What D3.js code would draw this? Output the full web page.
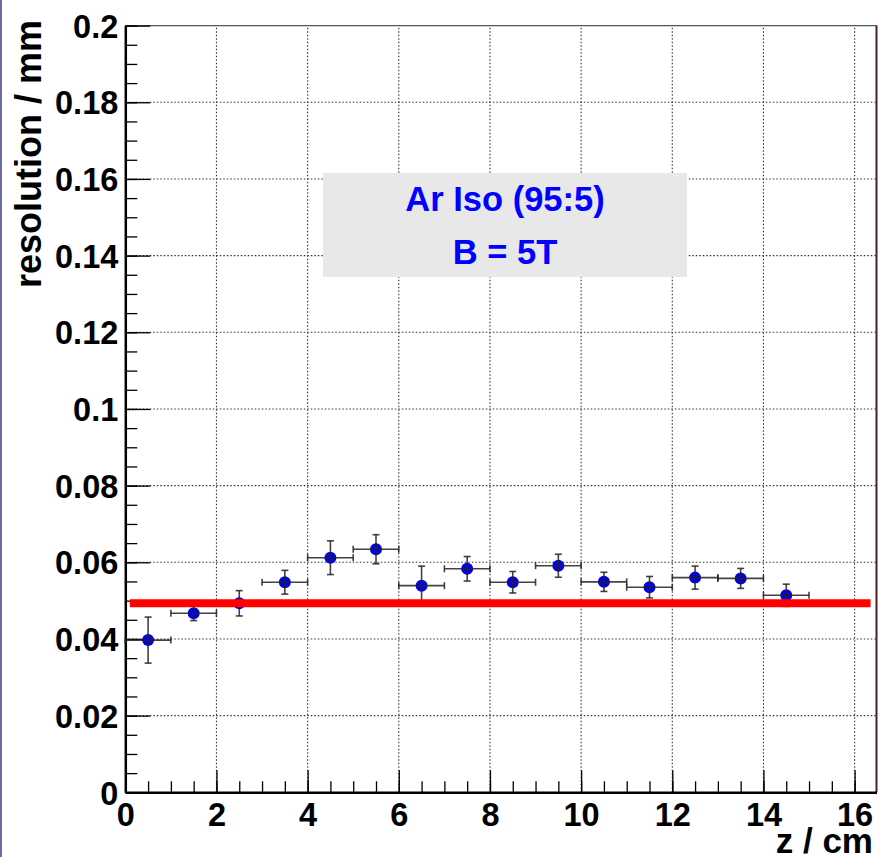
<!DOCTYPE html>
<html>
<head>
<script type="text/javascript" src="https://cdn.jsdelivr.net/npm/d3@7/dist/d3.min.js"></script>
<style>
  body { margin: 0; background: white; }
  text { font-family: "Liberation Sans", Arial, Helvetica, sans-serif; font-weight: bold; }
</style>
</head>
<body>
<script>

// data
var zBins      = [0.5, 1.5, 2.5, 3.5, 4.5, 5.5, 6.5, 7.5, 8.5, 9.5, 10.5, 11.5, 12.5, 13.5, 14.5];
var zErr       = [0.5, 0.5, 0.5, 0.5, 0.5, 0.5, 0.5, 0.5, 0.5, 0.5, 0.5, 0.5, 0.5, 0.5, 0.5];
var resolution = [0.0397, 0.0467, 0.0493, 0.0548, 0.0612, 0.0634, 0.0539, 0.0583, 0.0548, 0.0591, 0.0549, 0.0535, 0.0560, 0.0558, 0.0514];
var resErr     = [0.0060, 0.0019, 0.0033, 0.0031, 0.0044, 0.0038, 0.0051, 0.0032, 0.0028, 0.0030, 0.0025, 0.0028, 0.0030, 0.0026, 0.0029];
var fitValue   = 0.0493;
var fitRange   = [0.1, 16.35];
var xTicks     = [0, 2, 4, 6, 8, 10, 12, 14, 16];
var yTicks     = [0, 0.02, 0.04, 0.06, 0.08, 0.1, 0.12, 0.14, 0.16, 0.18, 0.2];
var legendLines = ["Ar Iso (95:5)", "B = 5T"];

var width = 878,
    height = 857;

var x = d3.scaleLinear().domain([0, 16.48]).range([125.3, 876.5]);
var y = d3.scaleLinear().domain([0, 0.2]).range([792.3, 25.6]);

var svg = d3.select("body").append("svg")
            .attr("width", width)
            .attr("height", height);

svg.append("rect").attr("width", width).attr("height", height).attr("fill", "white");
// slide border on the left
svg.append("rect").attr("x", 0).attr("y", 0).attr("width", 2).attr("height", height).attr("fill", "#6a6aa0");

// grid
var grid = svg.append("g").attr("stroke", "#333").attr("stroke-width", 1.1).attr("stroke-dasharray", "1.5,2");
grid.selectAll("line.gx").data(xTicks.slice(1)).enter().append("line")
    .attr("x1", function(d) { return x(d); }).attr("x2", function(d) { return x(d); })
    .attr("y1", y(0)).attr("y2", y(0.2));
grid.selectAll("line.gy").data(yTicks.slice(1, -1)).enter().append("line")
    .attr("y1", function(d) { return y(d); }).attr("y2", function(d) { return y(d); })
    .attr("x1", x(0)).attr("x2", x.range()[1]);

// frame top / right
svg.append("line").attr("x1", x(0)).attr("x2", x.range()[1]).attr("y1", y(0.2)).attr("y2", y(0.2))
   .attr("stroke", "#555").attr("stroke-width", 1.2);
svg.append("line").attr("x1", x.range()[1]).attr("x2", x.range()[1]).attr("y1", y(0.2)).attr("y2", y(0))
   .attr("stroke", "#4a2222").attr("stroke-width", 2);

// legend box
var box = svg.append("g");
box.append("rect").attr("x", 323).attr("y", 173).attr("width", 364).attr("height", 104).attr("fill", "#e8e8e8");
box.selectAll("text").data(legendLines).enter().append("text")
   .attr("x", 505)
   .attr("y", function(d, i) { return 211 + i * 53; })
   .attr("text-anchor", "middle")
   .attr("fill", "#0000ff")
   .style("font-size", "34.5px")
   .text(function(d) { return d; });

// axes: minor ticks then major ticks
var minorY = d3.range(0, 0.2001, 0.005), minorX = d3.range(0, 16.01, 0.5);
svg.append("g").attr("transform", "translate(" + x(0) + ",0)")
   .call(d3.axisLeft(y).tickValues(minorY).tickSize(-12).tickFormat(""))
   .call(function(g) { g.select(".domain").remove(); g.selectAll("line").attr("stroke-width", 1.3); });
svg.append("g").attr("transform", "translate(0," + y(0) + ")")
   .call(d3.axisBottom(x).tickValues(minorX).tickSize(-11).tickFormat(""))
   .call(function(g) { g.select(".domain").remove(); g.selectAll("line").attr("stroke-width", 1.3); });

var yAxis = svg.append("g").attr("transform", "translate(" + x(0) + ",0)")
   .call(d3.axisLeft(y).tickValues(yTicks).tickSize(-25).tickSizeOuter(0).tickPadding(7)
          .tickFormat(function(d) { return d === 0 ? "0" : String(+d.toFixed(2)); }));
yAxis.select(".domain").attr("stroke-width", 2.5);
yAxis.selectAll("line").attr("stroke-width", 1.3);
yAxis.selectAll("text").style("font-size", "32.5px").attr("fill", "black").attr("dy", "0.36em");

var xAxis = svg.append("g").attr("transform", "translate(0," + y(0) + ")")
   .call(d3.axisBottom(x).tickValues(xTicks).tickSize(-22).tickSizeOuter(0).tickPadding(8));
xAxis.select(".domain").attr("stroke-width", 2.5);
xAxis.selectAll("line").attr("stroke-width", 1.3);
xAxis.selectAll("text").style("font-size", "32.5px").attr("fill", "black").attr("y", 0).attr("dy", "1.03em");

// axis titles
svg.append("text").attr("transform", "translate(41,20) rotate(-90)")
   .attr("text-anchor", "end").style("font-size", "36px").text("resolution / mm");
svg.append("text").attr("x", 873).attr("y", 853)
   .attr("text-anchor", "end").style("font-size", "35px").text("z / cm");

// data
var pts = zBins.map(function(z, i) { return {z: z, ez: zErr[i], r: resolution[i], er: resErr[i]}; });

svg.append("g").selectAll("circle").data(pts).enter().append("circle")
   .attr("cx", function(d) { return x(d.z); })
   .attr("cy", function(d) { return y(d.r); })
   .attr("r", 6)
   .attr("fill", "#0000ee");

var bars = svg.append("g").attr("stroke", "#222").attr("stroke-width", 1.6).attr("stroke-opacity", 0.85);
pts.forEach(function(d) {
  var cx = x(d.z), cy = y(d.r);
  var yt = y(d.r + d.er), yb = y(d.r - d.er), xl = x(d.z - d.ez), xr = x(d.z + d.ez);
  bars.append("line").attr("x1", cx).attr("x2", cx).attr("y1", yt).attr("y2", yb);
  bars.append("line").attr("x1", xl).attr("x2", xr).attr("y1", cy).attr("y2", cy);
  bars.append("line").attr("x1", cx - 3.5).attr("x2", cx + 3.5).attr("y1", yt).attr("y2", yt);
  bars.append("line").attr("x1", cx - 3.5).attr("x2", cx + 3.5).attr("y1", yb).attr("y2", yb);
  bars.append("line").attr("x1", xl).attr("x2", xl).attr("y1", cy - 3.5).attr("y2", cy + 3.5);
  bars.append("line").attr("x1", xr).attr("x2", xr).attr("y1", cy - 3.5).attr("y2", cy + 3.5);
});

// fit line
svg.append("line")
   .attr("x1", x(fitRange[0])).attr("x2", x(fitRange[1]))
   .attr("y1", y(fitValue)).attr("y2", y(fitValue))
   .attr("stroke", "#ff0000").attr("stroke-width", 8);

</script>
</body>
</html>
